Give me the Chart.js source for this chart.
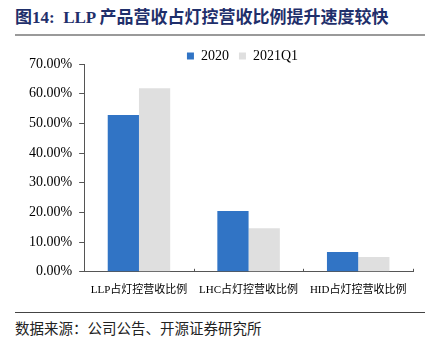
<!DOCTYPE html>
<html>
<head>
<meta charset="utf-8">
<script src="https://cdn.jsdelivr.net/npm/chart.js@4"></script>
<style>
 body { margin: 0; width: 430px; height: 350px; background: #fff; overflow: hidden; position: relative; }
 #title { position: absolute; left: 15px; top: 3px; font: bold 17px "Liberation Serif", "Noto Sans CJK SC"; color: #1f2f6b; white-space: nowrap; }
 #topLine { position: absolute; left: 15px; top: 34px; width: 410px; height: 2px; background: #9a9a9a; }
 #bottomLine { position: absolute; left: 15px; top: 312px; width: 410px; height: 1px; background: #444; }
 #source { position: absolute; left: 15px; top: 317px; font: 14.5px "Noto Sans CJK SC"; color: #222; white-space: nowrap; }
 #wrap { position: absolute; left: 0; top: 40px; width: 430px; height: 261px; }
</style>
</head>
<body>
<div id="title">图14:&nbsp; LLP 产品营收占灯控营收比例提升速度较快</div>
<div id="topLine"></div>
<div id="wrap"><canvas id="chart"></canvas></div>
<div id="bottomLine"></div>
<div id="source">数据来源：公司公告、开源证券研究所</div>
<script>
const categories = ['LLP占灯控营收比例', 'LHC占灯控营收比例', 'HID占灯控营收比例'];
const series2020 = [52.8, 20.5, 6.7];
const series2021Q1 = [61.8, 14.7, 5.0];
const seriesNames = ['2020', '2021Q1'];

const serif = '"Liberation Serif", "Noto Sans CJK SC"';

// legend sits tight above the plot and a bit right of centre
const legendShift = {
 id: 'legendShift',
 afterInit(chart) {
  const lg = chart.legend;
  const fit = lg.fit;
  lg.fit = function () {
   fit.call(this);
   this.height -= 10;
  };
 },
 afterUpdate(chart) {
  chart.legend.left += 25;
  chart.legend.right += 25;
  chart.legend.top -= 1;
  chart.legend.bottom -= 1;
 }
};

// small inward ticks on the category axis
const xTicks = {
 id: 'xTicks',
 afterDraw(chart) {
  const x = chart.scales.x;
  const ctx = chart.ctx;
  const n = categories.length;
  ctx.save();
  ctx.strokeStyle = '#555';
  ctx.lineWidth = 1;
  for (let i = 1; i <= n; i++) {
   const px = Math.round(x.left + i * x.width / n) + 0.5;
   ctx.beginPath();
   ctx.moveTo(px, x.top - 3);
   ctx.lineTo(px, x.top);
   ctx.stroke();
  }
  ctx.restore();
 }
};

new Chart(document.getElementById('chart').getContext('2d'), {
 type: 'bar',
 data: {
  labels: categories,
  datasets: [
   { label: seriesNames[0], data: series2020, backgroundColor: '#3174c5' },
   { label: seriesNames[1], data: series2021Q1, backgroundColor: '#dfdfdf' }
  ]
 },
 options: {
  responsive: true,
  maintainAspectRatio: false,
  animation: false,
  layout: { padding: { left: 22, right: 17, top: 0, bottom: 0 } },
  datasets: { bar: { categoryPercentage: 0.57, barPercentage: 1.0 } },
  plugins: {
   legend: {
    position: 'top',
    labels: { boxWidth: 7, boxHeight: 7, padding: 10, color: '#000', font: { family: serif, size: 14 } }
   },
   tooltip: { enabled: false }
  },
  scales: {
   x: {
    grid: { display: false },
    border: { color: '#555', width: 1 },
    ticks: { color: '#000', padding: 4, maxRotation: 0, font: { family: serif, size: 11 } }
   },
   y: {
    min: 0,
    max: 70,
    grid: { drawOnChartArea: false, tickLength: 5, color: '#555' },
    border: { color: '#555', width: 1 },
    ticks: {
     stepSize: 10,
     color: '#000',
     padding: 7,
     font: { family: serif, size: 14 },
     callback: v => v.toFixed(2) + '%'
    }
   }
  }
 },
 plugins: [legendShift, xTicks]
});
</script>
</body>
</html>
